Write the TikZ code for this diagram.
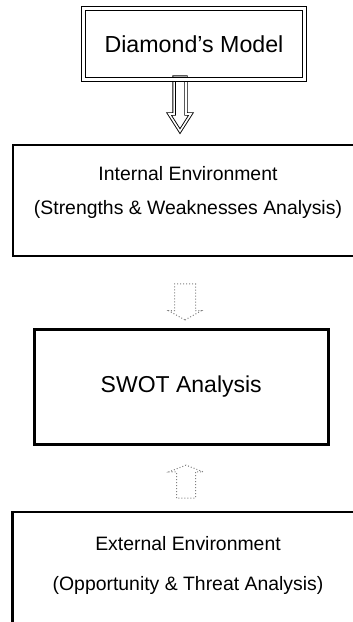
\documentclass[tikz,border=0pt]{standalone}
\usepackage{fontspec}
\setmainfont{Liberation Sans}
\usetikzlibrary{shapes.arrows}

\begin{document}
\begin{tikzpicture}[x=1pt, y=-1pt,
  box/.style={draw, rectangle, inner sep=0pt},
  envtext/.style={align=center, font=\fontsize{19.4}{34}\selectfont},
  blockarrow/.style={draw, single arrow, inner xsep=0pt, minimum width=0pt}]
  \useasboundingbox (0,0) rectangle (353,622);
  % arrows
  \node[blockarrow, double, double distance=1.6pt, line width=0.9pt, rotate=-90, inner ysep=5.5pt,
    single arrow head extend=5pt, single arrow tip angle=65, minimum height=54pt] (modelarrow) at (180,99.5) {};
  \node[blockarrow, dotted, gray, line width=1pt, rotate=-90, inner ysep=10pt,
    single arrow head extend=6pt, single arrow tip angle=121, minimum height=36pt] (intarrow) at (185,299) {};
  \node[blockarrow, dotted, gray, line width=1pt, rotate=90, inner ysep=9pt,
    single arrow head extend=7.5pt, single arrow tip angle=137, minimum height=33pt] (extarrow) at (186,483.5) {};
  % boxes
  \node[box, double, double distance=2.5pt, line width=1.2pt, minimum width=221pt, minimum height=71pt,
    font=\fontsize{23.2}{28}\selectfont] (model) at (194,44) {Diamond’s Model};
  \node[box, line width=2pt, minimum width=350pt, minimum height=111pt] (internal) at (188,200) {};
  \node[envtext] (inttext) at (188,192) {Internal Environment\\(Strengths \& Weaknesses Analysis)};
  \node[box, line width=3pt, minimum width=294.5pt, minimum height=115pt,
    font=\fontsize{23}{28}\selectfont] (swot) at (181.25,386.5) {SWOT Analysis};
  \node[box, line width=2.2pt, minimum width=351pt, minimum height=160pt] (external) at (188,592) {};
  \node[envtext, font=\fontsize{19.4}{40}\selectfont] (exttext) at (188,565) {External Environment\\(Opportunity \& Threat Analysis)};
\end{tikzpicture}
\end{document}
